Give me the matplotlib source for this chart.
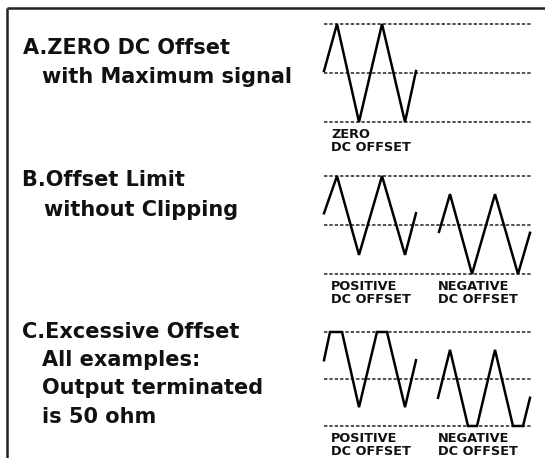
import matplotlib
matplotlib.use('Agg')
import matplotlib.pyplot as plt

# waveform vertices: time (arbitrary units across the panel) and level (-1..1 = output limits)
zero_t = [0, 13, 35, 58, 81, 92]
zero_v = [0.04, 1, -1, 1, -1, 0.04]

limit_pos_t = [0, 13, 35, 58, 81, 92]
limit_pos_v = [0.24, 1, -0.61, 1, -0.61, 0.24]
limit_neg_t = [115, 126, 148, 171, 194, 206]
limit_neg_v = [-0.14, 0.63, -1, 0.63, -1, -0.16]

excess_pos_t = [0, 6, 18, 35, 53, 63, 81, 92]
excess_pos_v = [0.4, 1, 1, -0.6, 1, 1, -0.6, 0.4]
excess_neg_t = [114, 126, 144, 153, 171, 189, 199, 206]
excess_neg_v = [-0.4, 0.62, -1, -1, 0.62, -1, -1, -0.4]

levels = [1, 0, -1]

titles = [
    [("A.ZERO DC Offset", 23, 48), ("with Maximum signal", 42, 77)],
    [("B.Offset Limit", 22, 180), ("without Clipping", 44, 210)],
    [("C.Excessive Offset", 22, 332), ("All examples:", 42, 360),
     ("Output terminated", 42, 388), ("is 50 ohm", 42, 417)],
]

W, H = 545, 458
fig = plt.figure(figsize=(W / 100, H / 100), dpi=100)
fig.patch.set_facecolor('white')

bg = fig.add_axes([0, 0, 1, 1])
bg.set_xlim(0, W)
bg.set_ylim(H, 0)
bg.axis('off')

# open frame (cropped box)
bg.plot([7, W], [8, 8], color='#222222', lw=1.8, solid_capstyle='butt')
bg.plot([7, 7], [8, H], color='#222222', lw=1.8, solid_capstyle='butt')

for block in titles:
    for txt, x, y in block:
        bg.text(x, y, txt, fontsize=15, fontweight='bold', color='#111111',
                ha='left', va='center', family='DejaVu Sans')


def panel(top, bottom, waves, labels):
    ax = fig.add_axes([324 / W, 1 - bottom / H, 208 / W, (bottom - top) / H])
    ax.set_xlim(0, 208)
    ax.set_ylim(-1, 1)
    ax.axis('off')
    for lv in levels:
        ax.axhline(lv, color='#222222', lw=1.1, ls=(0, (2.2, 1.3)), clip_on=False)
    for t, v in waves:
        ax.plot(t, v, color='black', lw=1.8, clip_on=False,
                solid_joinstyle='miter')
    for txt, x, y in labels:
        bg.text(x, y, txt, fontsize=9.3, fontweight='bold', color='#111111',
                ha='left', va='center', family='DejaVu Sans', linespacing=1.05)


panel(24, 122, [(zero_t, zero_v)], [("ZERO\nDC OFFSET", 331, 141)])
panel(176, 274, [(limit_pos_t, limit_pos_v), (limit_neg_t, limit_neg_v)],
      [("POSITIVE\nDC OFFSET", 331, 293), ("NEGATIVE\nDC OFFSET", 438, 293)])
panel(332, 426, [(excess_pos_t, excess_pos_v), (excess_neg_t, excess_neg_v)],
      [("POSITIVE\nDC OFFSET", 331, 445), ("NEGATIVE\nDC OFFSET", 438, 445)])

fig.savefig('out.png', dpi=100, facecolor='white')
